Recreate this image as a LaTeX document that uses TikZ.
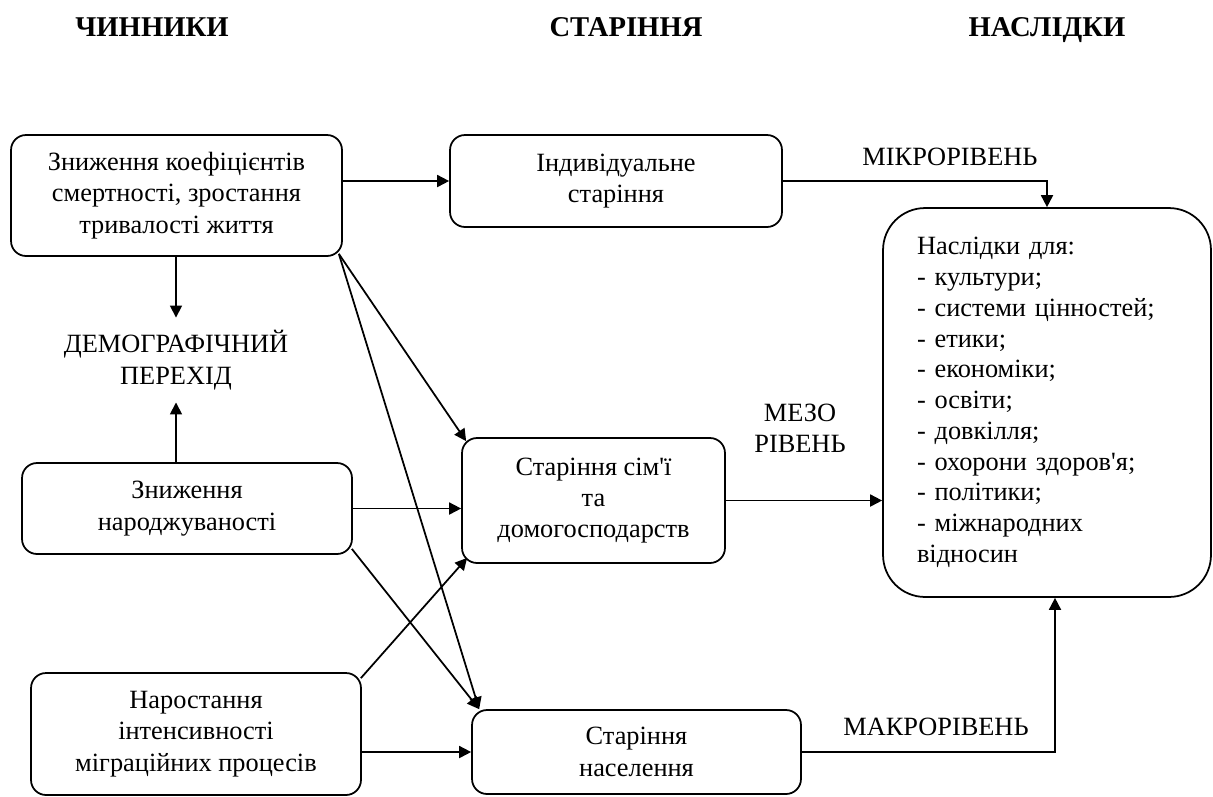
\documentclass[tikz,border=0pt]{standalone}
\usepackage{fontspec}
\setmainfont{Liberation Serif}
\usepackage{tikz}
\usetikzlibrary{arrows.meta,positioning,calc}
\newcommand{\bodyfont}{\fontsize{15}{17.8}\selectfont}
\newcommand{\apos}{\textquotesingle}

\begin{document}
\begin{tikzpicture}[x=0.02cm,y=-0.02cm,
  box/.style={draw,line width=1pt,rounded corners=0.3cm,align=center,inner sep=0pt,font=\bodyfont},
  arr/.style={line width=1pt,-{Triangle[length=0.24cm,width=0.24cm]}},
  head/.style={font=\fontsize{16.3}{19}\selectfont\bfseries,anchor=base},
  lvl/.style={font=\bodyfont,align=center}]
\useasboundingbox (0,0) rectangle (1213,796);
\node[head] (hfact) at (152,36) {ЧИННИКИ};
\node[head] (hage) at (626,36) {СТАРІННЯ};
\node[head] (hcons) at (1047,36) {НАСЛІДКИ};
\node[box,minimum width=6.62cm,minimum height=2.42cm] (mort) at (176.5,195.5) {Зниження коефіцієнтів\\смертності, зростання\\тривалості життя};
\node[lvl,inner sep=0.25cm] (demo) at (176,360) {ДЕМОГРАФІЧНИЙ\\ПЕРЕХІД};
\node[box,minimum width=6.6cm,minimum height=1.82cm] (birth) at (187,508.5) {Зниження\\народжуваності};
\node[box,minimum width=6.6cm,minimum height=2.44cm] (migr) at (196,734) {Наростання\\інтенсивності\\міграційних процесів};
\node[box,minimum width=6.64cm,minimum height=1.84cm] (indiv) at (616,181) {Індивідуальне\\старіння};
\node[box,minimum width=5.26cm,minimum height=2.5cm] (fam) at (593.5,500.5) {Старіння сім\apos ї\\та\\домогосподарств};
\node[box,minimum width=6.58cm,minimum height=1.68cm] (pop) at (636.5,752) {Старіння\\населення};
\node[box,rounded corners=0.84cm,minimum height=7.78cm,text width=5.2cm,inner xsep=0.68cm,align=left,
  font=\fontsize{15}{17.5}\selectfont] (cons) at (1047,402.5) {Наслідки для:\\- культури;\\- системи цінностей;\\- етики;\\- економіки;\\- освіти;\\- довкілля;\\- охорони здоров\apos я;\\- політики;\\- міжнародних\\відносин};
\node[lvl] (micro) at (950,157) {МІКРОРІВЕНЬ};
\node[lvl] (meso) at (800,428) {МЕЗО\\РІВЕНЬ};
\node[lvl] (macro) at (936,727) {МАКРОРІВЕНЬ};
\draw[arr] (mort.east |- indiv.west) -- (indiv.west);
\draw[arr] (mort.south -| demo.north) -- (demo.north);
\draw[arr] (birth.north -| demo.south) -- (demo.south);
\draw[arr] ([shift={(-4,-3)}]mort.south east) -- ([shift={(5,4)}]fam.north west);
\draw[arr] ([shift={(-4,-3)}]mort.south east) -- ([shift={(8,0)}]pop.north west);
\draw[arr] (birth.east) -- (birth.east -| fam.west);
\draw[arr] ([shift={(-1,-6)}]birth.south east) -- ([shift={(8,0)}]pop.north west);
\draw[arr] ([shift={(-1,6)}]migr.north east) -- ([shift={(6,-6)}]fam.south west);
\draw[arr] (pop.west -| migr.east) -- (pop.west);
\draw[arr] (indiv.east) -| (cons.north);
\draw[arr] (fam.east) -- (fam.east -| cons.west);
\draw[arr] (pop.east) -| ([xshift=0.16cm]cons.south);
\end{tikzpicture}
\end{document}
